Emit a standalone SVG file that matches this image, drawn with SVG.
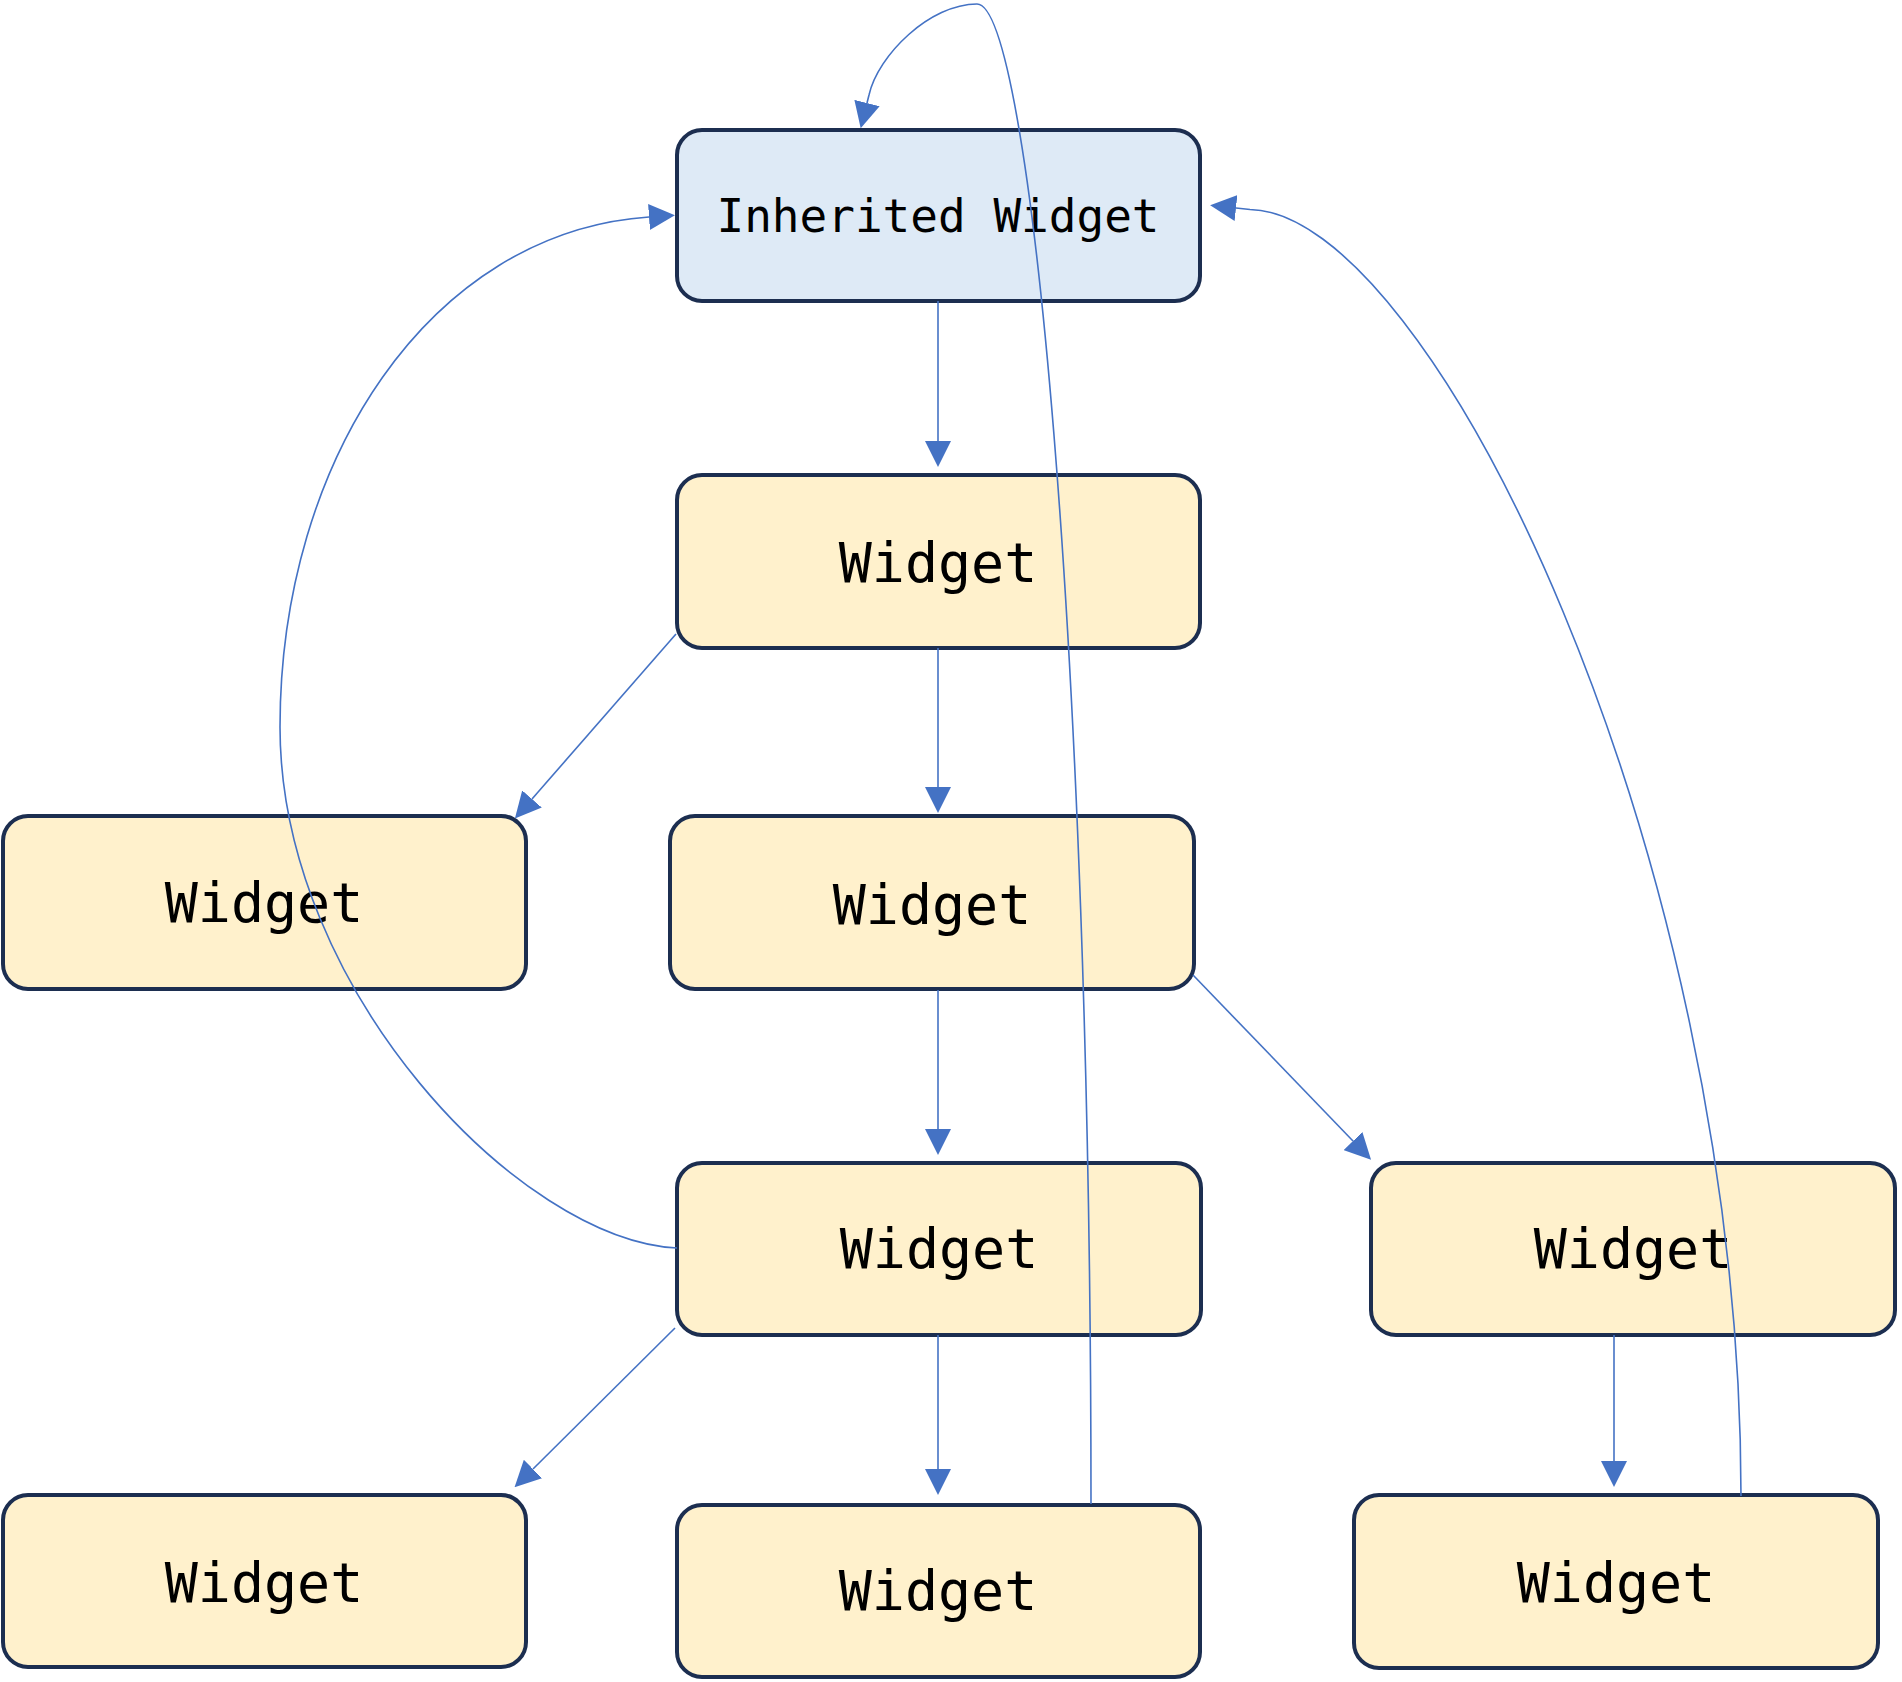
<svg xmlns="http://www.w3.org/2000/svg" width="1902" height="1682" viewBox="0 0 1902 1682">
<style>
.node rect{stroke:#1c2e50;stroke-width:4}
.inh rect{fill:#deeaf6}
.wid rect{fill:#fff1cc}
.node text{font-family:"DejaVu Sans Mono","Liberation Mono",monospace;fill:#000;text-anchor:middle}
.wid text{font-size:55px}
.inh text{font-size:46px}
.edges path{fill:none;stroke:#4472c4;stroke-width:1.6;marker-end:url(#arr)}
</style>
<defs>
<marker id="arr" viewBox="0 0 26 26" refX="0" refY="13" markerWidth="26" markerHeight="26" markerUnits="userSpaceOnUse" orient="auto">
<path d="M0,0 L26,13 L0,26 z" fill="#4472c4"/>
</marker>
</defs>
<rect width="1902" height="1682" fill="#fff"/>
<g id="n0" class="node inh"><rect x="677" y="130" width="523" height="171" rx="25"/><text x="938" y="232">Inherited Widget</text></g>
<g id="n1" class="node wid"><rect x="677" y="475" width="523" height="173" rx="25"/><text x="938" y="582">Widget</text></g>
<g id="n2" class="node wid"><rect x="3" y="816" width="523" height="173" rx="25"/><text x="264" y="922">Widget</text></g>
<g id="n3" class="node wid"><rect x="670" y="816" width="524" height="173" rx="25"/><text x="932" y="924">Widget</text></g>
<g id="n4" class="node wid"><rect x="677" y="1163" width="524" height="172" rx="25"/><text x="939" y="1268">Widget</text></g>
<g id="n5" class="node wid"><rect x="1371" y="1163" width="524" height="172" rx="25"/><text x="1633" y="1268">Widget</text></g>
<g id="n6" class="node wid"><rect x="3" y="1495" width="523" height="172" rx="25"/><text x="264" y="1602">Widget</text></g>
<g id="n7" class="node wid"><rect x="677" y="1505" width="523" height="172" rx="25"/><text x="938" y="1610">Widget</text></g>
<g id="n8" class="node wid"><rect x="1354" y="1495" width="524" height="173" rx="25"/><text x="1616" y="1602">Widget</text></g>
<g class="edges">
<path d="M938,301 L938,441"/>
<path d="M938,648 L938,787"/>
<path d="M676,634 L532,799"/>
<path d="M938,990 L938,1129"/>
<path d="M1193,975 L1353,1141"/>
<path d="M938,1335 L938,1469"/>
<path d="M675,1328 L533,1469"/>
<path d="M1614,1335 L1614,1461"/>
<path d="M677,1248 C520,1240 280,990 280,727 C280,460 430,232 649,217"/>
<path d="M1741,1496 C1741,850 1430,212 1250,209.5 L1236,208"/>
<path d="M1091,1504 C1091,650 1030,4 977,4 C930,4 878,55 869,95 L867,103"/>
</g>
</svg>
